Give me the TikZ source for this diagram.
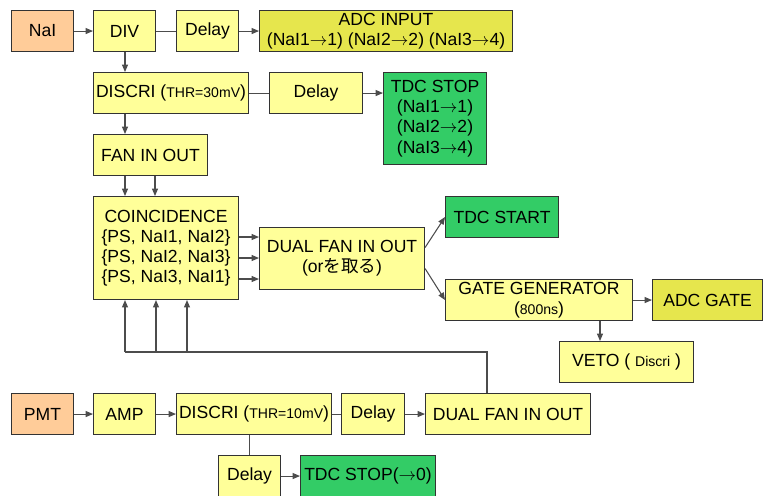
\documentclass[tikz,border=0pt]{standalone}
\usepackage{fontspec}
\setmainfont{Liberation Sans}
\newfontfamily\jpfont{Noto Sans CJK JP}
\usetikzlibrary{calc,arrows.meta}
\definecolor{peach}{HTML}{FFCC99}
\definecolor{paleyel}{HTML}{FFFF99}
\definecolor{adcyel}{HTML}{E6E64D}
\definecolor{tdcgreen}{HTML}{33CC66}
\newcommand{\smalltxt}[1]{{\fontsize{8}{9}\selectfont #1}}
\newcommand{\toarr}{$\rightarrow$}
\tikzset{
  box/.style={draw=black!80, line width=0.6pt, fill=paleyel, anchor=north west, inner sep=0pt, align=center, font=\fontsize{10}{11.5}\selectfont},
  sz/.style 2 args={minimum width=#1*0.02cm, minimum height=#2*0.02cm},
  ln/.style={draw=black!70, line width=0.6pt},
  arr/.style={ln, -{Triangle[length=4.2pt,width=3.4pt]}}
}

\begin{document}
\begin{tikzpicture}[x=0.02cm, y=-0.02cm]
\useasboundingbox (0,0) rectangle (763,495);
\node[box,fill=peach,sz={62}{41}] (nai) at (11,10) {NaI};
\node[box,sz={62}{41}] (div) at (93,10) {DIV};
\node[box,sz={62}{41}] (dlyA) at (176,10) {Delay};
\node[box,fill=adcyel,sz={253}{41}] (adcin) at (259,10) {ADC INPUT\\(NaI1\toarr1) (NaI2\toarr2) (NaI3\toarr4)};
\node[box,sz={155}{41}] (discA) at (93,72) {DISCRI (\smalltxt{THR=30mV})};
\node[box,sz={93}{41}] (dlyB) at (269,72) {Delay};
\node[box,fill=tdcgreen,sz={103}{92}] (tdcstop) at (383,72) {TDC STOP\\(NaI1\toarr1)\\(NaI2\toarr2)\\(NaI3\toarr4)};
\node[box,sz={114}{41}] (fan) at (93,134) {FAN IN OUT};
\node[box,sz={145}{103}] (coin) at (93,196) {COINCIDENCE\\\{PS, NaI1, NaI2\}\\\{PS, NaI2, NaI3\}\\\{PS, NaI3, NaI1\}};
\node[box,sz={165}{62}] (dual) at (259,227) {DUAL FAN IN OUT\\(or{\jpfont を取る})};
\node[box,fill=tdcgreen,sz={113}{41}] (tdcstart) at (445,196) {TDC START};
\node[box,sz={187}{41}] (gate) at (445,279) {GATE GENERATOR\\(\smalltxt{800ns})};
\node[box,fill=adcyel,sz={110}{41}] (adcgate) at (652,279) {ADC GATE};
\node[box,sz={134}{41}] (veto) at (559,341) {VETO ( \smalltxt{Discri} )};
\node[box,fill=peach,sz={62}{41}] (pmt) at (11,393) {PMT};
\node[box,sz={62}{41}] (amp) at (93,393) {AMP};
\node[box,sz={155}{41}] (discB) at (176,393) {DISCRI (\smalltxt{THR=10mV})};
\node[box,sz={63}{41}] (dlyC) at (341,393) {Delay};
\node[box,sz={165}{41}] (dualB) at (425,393) {DUAL FAN IN OUT};
\node[box,sz={62}{41}] (dlyD) at (218,455) {Delay};
\node[box,fill=tdcgreen,sz={135}{41}] (tdczero) at (300,455) {TDC STOP(\toarr0)};
\coordinate (cA) at (125,0);
\coordinate (cB) at (155,0);
\coordinate (gv) at (600,0);
\coordinate (fb) at (487,352);
\draw[arr] (nai) -- (div);
\draw[ln] (div) -- (dlyA);
\draw[arr] (dlyA) -- (adcin);
\draw[arr] (div.south -| cA) -- (discA.north -| cA);
\draw[ln] (discA) -- (dlyB);
\draw[arr] (dlyB) -- (dlyB -| tdcstop.west);
\draw[arr] (discA.south -| cA) -- (fan.north -| cA);
\draw[arr] (fan.south -| cA) -- (coin.north -| cA);
\draw[arr] (fan.south -| cB) -- (coin.north -| cB);
\foreach \y [count=\i] in {237,258,279} {
  \coordinate (r\i) at (0,\y);
  \draw[arr] (coin.east |- r\i) -- (dual.west |- r\i);
}
\draw[arr] ($(dual.east)+(0,-11)$) -- (tdcstart.west);
\draw[arr] ($(dual.east)+(0,10)$) -- (gate.west);
\draw[arr] (gate) -- (adcgate);
\draw[arr] (gate.south -| gv) -- (veto.north -| gv);
\draw[arr] (pmt) -- (amp);
\draw[arr] (amp) -- (discB);
\draw[ln] (discB) -- (dlyC);
\draw[arr] (dlyC) -- (dualB);
\draw[ln] (discB.south -| dlyD.north) -- (dlyD.north);
\draw[arr] (dlyD) -- (tdczero);
\draw[ln] (dualB.north -| fb) -- (fb) -- (fb -| cA);
\foreach \x [count=\i] in {125,156,187} {
  \coordinate (u\i) at (\x,352);
  \draw[arr] (u\i) -- (u\i |- coin.south);
}
\end{tikzpicture}
\end{document}
